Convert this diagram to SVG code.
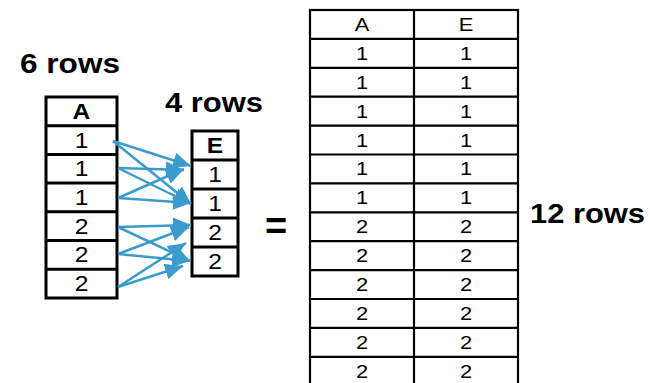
<svg xmlns="http://www.w3.org/2000/svg" width="650" height="383" viewBox="0 0 650 383">
  <style>
    text { font-family: "Liberation Sans", Arial, sans-serif; fill: #000; }
    .title { font-size: 28px; font-weight: bold; }
    .cell { font-size: 22px; text-anchor: middle; transform-box: fill-box; transform-origin: center; transform: scaleX(1.12); }
    .hdr { font-weight: bold; }
    .big { font-size: 19px; text-anchor: middle; transform-box: fill-box; transform-origin: center; transform: scaleX(1.15); }
    .tbl { fill: #fff; stroke: #000; stroke-width: 3; }
    .grid { stroke: #000; stroke-width: 3; }
    .bigtbl { fill: #fff; stroke: #000; stroke-width: 2.2; }
    .biggrid { stroke: #000; stroke-width: 2.2; }
    .arrow { stroke: #3a9bcc; stroke-width: 2.5; fill: none; marker-end: url(#head); }
  </style>
  <defs>
    <marker id="head" markerUnits="userSpaceOnUse" markerWidth="20" markerHeight="16" refX="18" refY="8" orient="auto">
      <path d="M0,0 L18,8 L0,16 Z" fill="#3a9bcc"/>
    </marker>
  </defs>

  <!-- row counts -->
  <text class="title" x="20" y="73" textLength="100" lengthAdjust="spacingAndGlyphs">6 rows</text>
  <text class="title" x="165" y="112" textLength="98" lengthAdjust="spacingAndGlyphs">4 rows</text>
  <text class="title" x="530" y="223" textLength="115" lengthAdjust="spacingAndGlyphs">12 rows</text>

  <!-- table A (6 rows) -->
  <g id="tableA">
    <rect class="tbl" x="46" y="97" width="71" height="201"/>
    <path class="grid" d="M46,125.7H117M46,154.4H117M46,183.1H117M46,211.8H117M46,240.5H117M46,269.2H117"/>
    <text class="cell hdr" x="81.5" y="119">A</text>
    <text class="cell" x="81.5" y="148">1</text>
    <text class="cell" x="81.5" y="176.5">1</text>
    <text class="cell" x="81.5" y="205">1</text>
    <text class="cell" x="81.5" y="234">2</text>
    <text class="cell" x="81.5" y="262.5">2</text>
    <text class="cell" x="81.5" y="291">2</text>
  </g>

  <!-- table E (4 rows) -->
  <g id="tableE">
    <rect class="tbl" x="192" y="131" width="46" height="145"/>
    <path class="grid" d="M192,160H238M192,189H238M192,218H238M192,247H238"/>
    <text class="cell hdr" x="215" y="153">E</text>
    <text class="cell" x="215" y="182">1</text>
    <text class="cell" x="215" y="211">1</text>
    <text class="cell" x="215" y="240">2</text>
    <text class="cell" x="215" y="269">2</text>
  </g>

  <!-- matching rows -->
  <g id="connectors">
    <line class="arrow" x1="113" y1="141" x2="191" y2="166"/>
    <line class="arrow" x1="113" y1="141" x2="191" y2="204"/>
    <line class="arrow" x1="118" y1="168" x2="184" y2="170"/>
    <line class="arrow" x1="118" y1="168" x2="191" y2="204"/>
    <line class="arrow" x1="118" y1="198" x2="184" y2="169"/>
    <line class="arrow" x1="118" y1="198" x2="191" y2="203"/>
    <line class="arrow" x1="118" y1="227" x2="191" y2="225"/>
    <line class="arrow" x1="118" y1="227" x2="190" y2="261"/>
    <line class="arrow" x1="118" y1="254" x2="189" y2="227"/>
    <line class="arrow" x1="118" y1="254" x2="190" y2="261"/>
    <line class="arrow" x1="118" y1="287" x2="186" y2="243"/>
    <line class="arrow" x1="118" y1="287" x2="183" y2="266"/>
  </g>

  <!-- equals sign -->
  <text id="equals" x="276" y="239" font-size="38" font-weight="bold" text-anchor="middle">=</text>

  <!-- joined result (12 rows) -->
  <g id="result">
    <rect class="bigtbl" x="310" y="10" width="208" height="380"/>
    <path class="biggrid" d="M414,10V390
      M310,38.9H518M310,67.8H518M310,96.7H518M310,125.6H518M310,154.5H518M310,183.4H518
      M310,212.3H518M310,241.2H518M310,270.1H518M310,299H518M310,327.9H518M310,356.8H518"/>
    <text class="big" x="362" y="31">A</text>
    <text class="big" x="466" y="31">E</text>
    <text class="big" x="362" y="60">1</text><text class="big" x="466" y="60">1</text>
    <text class="big" x="362" y="89">1</text><text class="big" x="466" y="89">1</text>
    <text class="big" x="362" y="118">1</text><text class="big" x="466" y="118">1</text>
    <text class="big" x="362" y="147">1</text><text class="big" x="466" y="147">1</text>
    <text class="big" x="362" y="175.5">1</text><text class="big" x="466" y="175.5">1</text>
    <text class="big" x="362" y="204.5">1</text><text class="big" x="466" y="204.5">1</text>
    <text class="big" x="362" y="233.5">2</text><text class="big" x="466" y="233.5">2</text>
    <text class="big" x="362" y="262.5">2</text><text class="big" x="466" y="262.5">2</text>
    <text class="big" x="362" y="291">2</text><text class="big" x="466" y="291">2</text>
    <text class="big" x="362" y="320">2</text><text class="big" x="466" y="320">2</text>
    <text class="big" x="362" y="349">2</text><text class="big" x="466" y="349">2</text>
    <text class="big" x="362" y="378">2</text><text class="big" x="466" y="378">2</text>
  </g>
</svg>
